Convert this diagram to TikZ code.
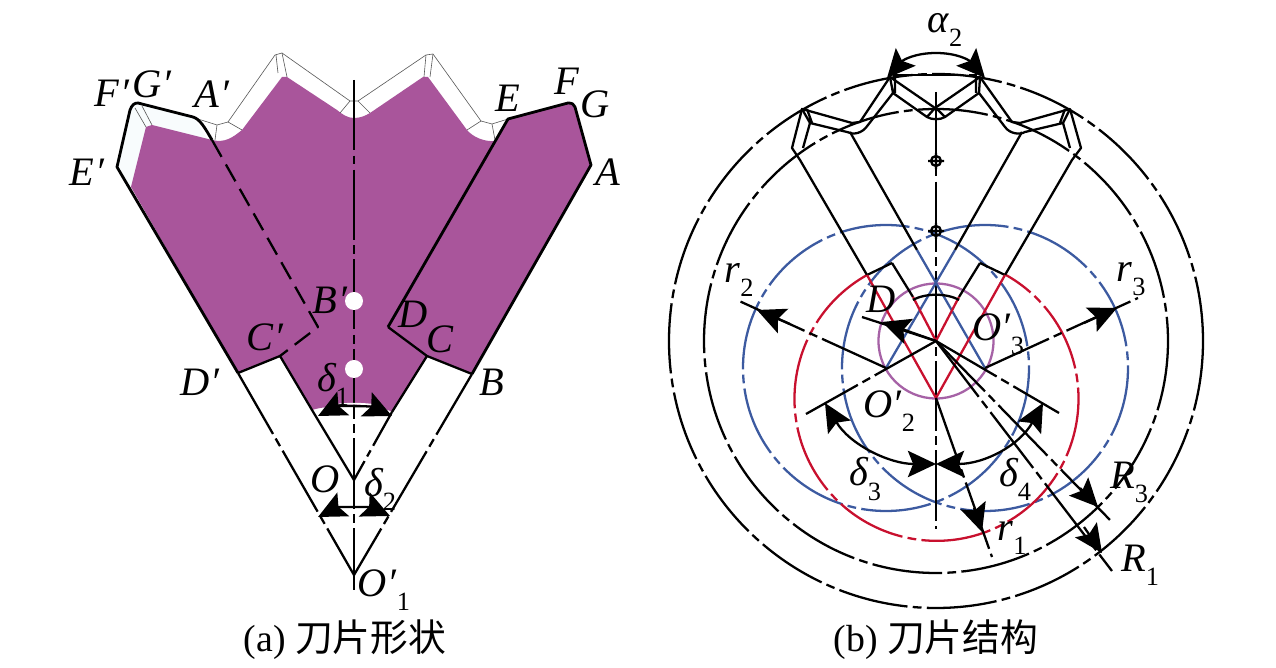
\documentclass[tikz,border=0pt]{standalone}
\usepackage{fontspec}
\setmainfont{Liberation Serif}
\newfontfamily\cjk{Noto Sans CJK SC}
\usetikzlibrary{arrows.meta,calc,positioning}
\definecolor{bladepurple}{HTML}{A9559B}
\definecolor{bladeblue}{HTML}{3C5AA0}
\definecolor{bladered}{HTML}{C8102E}
\definecolor{ringpurple}{HTML}{A662A6}
\definecolor{stripwhite}{HTML}{F8FCFD}
\newcommand{\lsub}[1]{\raisebox{-.35em}{\fontsize{15}{15}\selectfont\upshape #1}}
\newcommand{\pr}{\kern.02em′}
\newcommand{\prsub}[1]{\kern.02em′\raisebox{-.35em}{\fontsize{15}{15}\selectfont\upshape #1}}
\tikzset{
  outline/.style={line width=1.6pt,line join=round},
  thinline/.style={line width=1.3pt,line join=round},
  greyline/.style={line width=.35pt,draw=black!65},
  dashdot/.style={line width=1.3pt,dash pattern=on 40pt off 3pt on 5pt off 3pt},
  shortdash/.style={line width=1.3pt,dash pattern=on 22pt off 3pt on 4pt off 3pt},
  bigtip/.style={-{Stealth[length=16pt,width=15pt,inset=3pt]}},
  bothtips/.style={{Stealth[length=16pt,width=15pt,inset=3pt]}-{Stealth[length=16pt,width=15pt,inset=3pt]}},
  labeltext/.style={font=\fontsize{23}{23}\selectfont\itshape,inner sep=0pt},
  captiontext/.style={font=\fontsize{21.5}{21.5}\selectfont,inner sep=0pt}
}
\begin{document}
\begin{tikzpicture}[x=.02cm,y=-.02cm]
   \useasboundingbox (0,0) rectangle (1276,668);
   % (a) blade shape
   \coordinate (Dl) at (238,373);
   \coordinate (Cl) at (280,356);
   \coordinate (Bl) at (318,327);
   \coordinate (Al) at (212,140);
   \coordinate (El) at (117,167);
   \coordinate (Er) at (508,119);
   \coordinate (Ar) at (591,165);
   \coordinate (Br) at (472,374);
   \coordinate (Cr) at (427,356);
   \coordinate (Dr) at (388,327);
   \coordinate (Oa) at (354,480);
   \coordinate (Ob) at (354,575);
   \coordinate (Tl) at (312,410);
   \coordinate (Tr) at (392,412);
   \fill[stripwhite] (El) -- (130,110) -- (137,103) -- (193,117) -- (208,140) -- (152,125) -- (146,127) -- (131,187) -- cycle;
   \fill[bladepurple] (Dl) -- (131,187) -- (146,127) -- (152,125) -- (Al) .. controls (225,143) and (232,138) .. (242,130)
     -- (282,77) -- (287,77) -- (337,110) .. controls (343,115) and (348,118) .. (354,118)
     .. controls (360,118) and (365,116) .. (370,113) -- (423,77) -- (428,77) -- (467,130)
     .. controls (473,137) and (484,142) .. (495,141) -- (Er) -- (568,103) -- (575,106) -- (Ar) -- (Br) -- (Cr) -- (Tr)
     .. controls (380,404) and (330,404) .. (Tl) -- (Cl) -- cycle;
   % thin outline of the blank
   \draw[greyline] (198,119) -- (217,125) -- (228,122) -- (275,55) -- (282,53) -- (350,101) -- (358,101) -- (426,55) -- (433,54) -- (481,121) -- (492,124) -- (Er);
   \draw[greyline] (276,55) -- (278,73) (282,53) -- (287,77) (228,122) -- (242,130) (217,125) -- (215,140) (350,101) -- (340,113);
   \draw[greyline] (358,101) -- (370,113) (426,55) -- (424,77) (433,54) -- (430,77) (481,121) -- (467,130) (492,124) -- (495,140);
   \draw[greyline] (135,108) -- (146,127) (142,106) -- (152,125);
   % thick edges
   \draw[outline] (Dl) -- (El) -- (130,110) .. controls (132,105) and (134,103) .. (138,103) -- (193,117) .. controls (200,119) and (205,128) .. (Al);
   \draw[outline] (Dr) -- (Er) -- (568,103) .. controls (572,103) and (574,104) .. (575,107) -- (Ar) -- (Br);
   \draw[thinline] (Dl) -- (Cl) -- (Tl) -- (Oa);
   \draw[thinline] (Dr) -- (Cr) -- (Br);
   \draw[thinline] (Cr) -- (Tr);
   \draw[shortdash] (Tr) -- (Oa);
   \draw[thinline,dash pattern=on 11pt off 5pt] (Al) -- (Bl) -- (Cl);
   \draw[dashdot] (Dl) -- (Ob);
   \draw[dashdot] (Br) -- (Ob);
   \draw[dashdot] (354,80) -- (354,590);
   % pin holes
   \fill[white] (354,301) circle[radius=9];
   \fill[white] (354,369) circle[radius=9];
   \draw[white,line width=1pt] (330,406) .. controls (340,403) and (368,403) .. (378,406);
   \coordinate (Ta) at (318,416);
   \coordinate (Tb) at (392,416);
   \draw[bothtips,thinline] (Ta) .. controls (338,406) and (370,406) .. (Tb);
   \coordinate (Sa) at (318,517);
   \coordinate (Sb) at (390,516);
   \draw[bothtips,thinline] (Sa) .. controls (338,507) and (370,507) .. (Sb);
   % (b) blade structure
   \coordinate (Oc) at (936,341);
   \coordinate (Od) at (936,398);
   \coordinate (Oe) at (886,368);
   \coordinate (Of) at (985,368);
   \draw[dashdot] (Oc) circle[radius=267];
   \draw[dashdot] (Oc) circle[radius=232];
   \draw[bladeblue,dashdot] (Oe) circle[radius=143];
   \draw[bladeblue,dashdot] (Of) circle[radius=143];
   \draw[ringpurple,thinline] (Oc) circle[radius=57.5];
   \draw[bladered,dashdot] (867,275) arc[start angle=-119.3,end angle=-420.7,radius=142];
   \draw[thinline] (867,275) -- (892,263) (980,263) -- (1005,275);
   % blade teeth
   \draw[thinline] (867,275) -- (800,160) -- (792,148) -- (802,109) -- (852,123) -- (860,122) -- (890,77) -- (935,108) -- (980,77) -- (1012,122) -- (1020,123) -- (1070,109) -- (1081,148) -- (1072,160) -- (1005,275);
   \draw[thinline] (803,148) -- (810,123) -- (847,132) .. controls (853,135) and (862,134) .. (868,125) -- (893,93) -- (927,117) .. controls (932,120) and (940,120) .. (945,117) -- (979,93) -- (1005,127) .. controls (1010,134) and (1020,135) .. (1025,132) -- (1063,123) -- (1070,148);
   \draw[thinline] (802,109) -- (810,123) (807,109) -- (812,123) (890,77) -- (893,93) (895,77) -- (895,93);
   \draw[thinline] (935,108) -- (927,117) (936,108) -- (945,117) (980,77) -- (979,93) (976,77) -- (976,93);
   \draw[thinline] (1070,109) -- (1063,123) (1065,109) -- (1060,123);
   % centre marks
   \draw[dashdot] (936,92) -- (936,529);
   \draw[thinline] (936,161) circle[radius=5] (928,161) -- (944,161) (936,153) -- (936,169);
   \draw[thinline] (936,231) circle[radius=5] (928,231) -- (944,231) (936,223) -- (936,239);
   % red and blue flanks
   \draw[thinline] (850,132) -- (917,250);
   \draw[bladeblue,thinline] (917,250) -- (Of);
   \draw[thinline] (1022,132) -- (955,250);
   \draw[bladeblue,thinline] (955,250) -- (Oe);
   \draw[bladered,thinline] (Od) -- (867,275);
   \draw[bladered,thinline] (Od) -- (1005,275);
   \draw[thinline] (892,263) -- (913,297);
   \draw[bladered,thinline] (913,297) -- (Oc);
   \draw[thinline] (980,263) -- (959,297);
   \draw[bladered,thinline] (959,297) -- (Oc);
   \draw[thinline] (913,300) .. controls (925,293) and (947,293) .. (959,300);
   % radius and angle lines
   \draw[dashdot] (Oc) -- (806,414);
   \draw[dashdot] (Oc) -- (1059,413);
   \draw[thinline] (Oc) -- (862,317);
   \draw[bigtip,thinline] (Oc) -- (882,322);
   \draw[dashdot] (Oe) -- (737,300);
   \draw[bigtip,thinline] (790,324) -- (757,310);
   \draw[dashdot] (Of) -- (1138,298);
   \draw[bigtip,thinline] (1084,323) -- (1117,308);
   \draw[dashdot] (Od) -- (992,557);
   \draw[bigtip,thinline] (974,508) -- (982,532);
   \draw[dashdot] (Oc) -- (1110,520);
   \draw[bigtip,thinline] (1080,488) -- (1098,507);
   \draw[dashdot] (Oc) -- (1112,571);
   \draw[bigtip,thinline] (1084,527) -- (1102,553);
   \draw[bothtips,thinline] (825,403) .. controls (850,445) and (890,464) .. (936,464);
   \draw[bothtips,thinline] (936,464) .. controls (985,464) and (1020,445) .. (1043,403);
   \draw[dashdot] (893,75) -- (978,75);
   \coordinate (Ua) at (887,78);
   \coordinate (Ub) at (985,78);
   \draw[bothtips,thinline] (Ua) .. controls (903,60) and (915,53) .. (936,53) .. controls (957,53) and (969,60) .. (Ub);
   % labels
   \begin{scope}[every node/.style={labeltext}]
    \node (lFa) at (112,93) {F\pr};
    \node (lGa) at (152,84) {G\pr};
    \node (lAa) at (212,94) {A\pr};
    \node (lEa) at (87,172) {E\pr};
    \node (lE) at (508,98) {E};
    \node (lF) at (567,81) {F};
    \node (lG) at (595,104) {G};
    \node (lA) at (608,172) {A};
    \node (lBa) at (330,300) {B\pr};
    \node (lCa) at (265,337) {C\pr};
    \node (lDa) at (200,382) {D\pr};
    \node (lD) at (413,314) {D};
    \node (lC) at (440,339) {C};
    \node (lB) at (492,382) {B};
    \node (ldelA) at (333,384) {δ\lsub{1}};
    \node (lO) at (325,479) {O};
    \node (ldelB) at (380,489) {δ\lsub{2}};
    \node (lOb) at (384,590) {O\prsub{1}};
    \node (lalpha) at (945,30) {α\lsub{2}};
    \node (lrb) at (739,280) {r\lsub{2}};
    \node (lrc) at (1131,279) {r\lsub{3}};
    \node (lDb) at (881,299) {D};
    \node (lOf) at (998,334) {O\prsub{3}};
    \node (lOe) at (889,411) {O\prsub{2}};
    \node (ldelC) at (865,479) {δ\lsub{3}};
    \node (ldelD) at (1015,479) {δ\lsub{4}};
    \node (lra) at (1012,538) {r\lsub{1}};
    \node (lRc) at (1129,482) {R\lsub{3}};
    \node (lRa) at (1140,565) {R\lsub{1}};
   \end{scope}
   \node[captiontext] (capa) at (345,640) {(a) {\cjk 刀片形状}};
   \node[captiontext] (capb) at (936,640) {(b) {\cjk 刀片结构}};
\end{tikzpicture}
\end{document}
